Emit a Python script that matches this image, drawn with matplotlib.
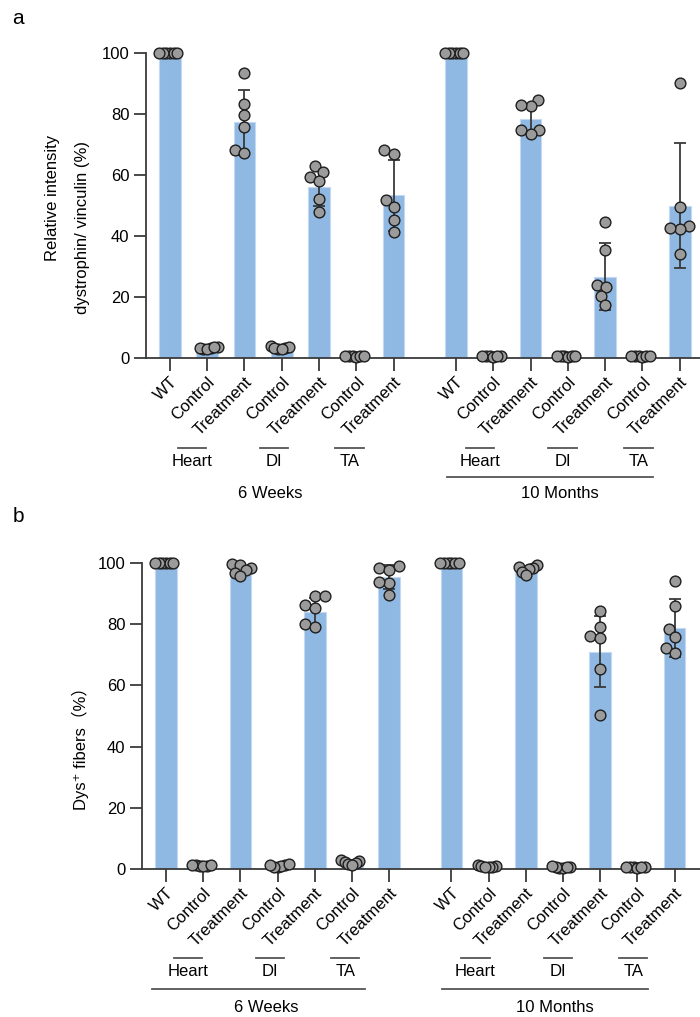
import numpy as np
import matplotlib
matplotlib.use("Agg")
import matplotlib.pyplot as plt
import matplotlib.transforms as mtransforms

plt.rcParams["font.family"] = ["Liberation Sans", "DejaVu Sans", "Noto Sans CJK SC"]
plt.rcParams["font.size"] = 12

# categories
bar_labels = ["WT", "Control", "Treatment", "Control", "Treatment", "Control", "Treatment"] * 2
tissues = ["Heart", "DI", "TA"] * 2
periods = ["6 Weeks", "10 Months"]

# panel a: relative intensity dystrophin / vinculin (%)
a_points = [
    [100, 100, 100, 100, 100, 100],
    [3.0, 3.4, 3.6, 3.2, 2.8, 3.5],
    [93.6, 83.4, 79.8, 75.8, 68.2, 67.1],
    [3.8, 3.2, 2.9, 3.6, 3.4, 2.8],
    [63.0, 61.0, 59.5, 58.0, 52.0, 47.8],
    [0.6, 0.5, 0.4, 0.7, 0.5, 0.6],
    [68.2, 67.0, 51.7, 49.5, 45.3, 41.2],
    [100, 100, 100, 100, 100, 100],
    [0.6, 0.5, 0.7, 0.4, 0.6, 0.5],
    [84.7, 82.6, 82.8, 74.9, 74.7, 73.4],
    [0.5, 0.6, 0.4, 0.7, 0.5, 0.6],
    [44.5, 35.4, 23.8, 23.2, 20.4, 17.4],
    [0.6, 0.5, 0.7, 0.4, 0.5, 0.6],
    [90.2, 49.6, 43.3, 42.2, 42.5, 34.1],
]
a_means = [100, 3.2, 77.3, 3.1, 56.1, 0.5, 53.3, 100, 0.5, 78.3, 0.5, 26.7, 0.5, 50.0]
a_sd = [0, 0.3, 10.6, 0.4, 6.3, 0.1, 11.6, 0, 0.1, 4.8, 0.1, 11.0, 0.1, 20.4]

# panel b: Dys+ fibers (%)
b_points = [
    [100, 100, 100, 100, 100, 100],
    [1.2, 1.0, 1.4, 1.1, 0.9, 1.3],
    [99.8, 99.2, 98.5, 97.6, 96.8, 95.8],
    [1.4, 0.6, 1.0, 1.5, 0.8, 1.2],
    [89.1, 89.3, 86.3, 85.3, 80.2, 79.0],
    [2.8, 2.2, 1.5, 2.5, 1.9, 1.2],
    [98.9, 98.5, 97.8, 93.4, 93.7, 89.4],
    [100, 100, 100, 100, 100, 100],
    [1.0, 0.8, 0.6, 1.2, 0.9, 0.7],
    [99.3, 98.8, 98.4, 97.9, 97.2, 96.2],
    [0.8, 0.4, 0.3, 0.6, 1.0, 0.5],
    [84.4, 79.0, 76.2, 75.6, 65.3, 50.4],
    [0.7, 0.5, 0.6, 0.4, 0.8, 0.5],
    [94.0, 85.8, 78.4, 75.7, 72.3, 70.7],
]
b_means = [100, 1.1, 97.8, 1.1, 84.1, 2.0, 95.4, 100, 0.8, 97.6, 0.6, 71.0, 0.6, 78.7]
b_sd = [0, 0.2, 1.4, 0.3, 4.3, 0.6, 3.8, 0, 0.2, 1.1, 0.3, 11.6, 0.2, 9.5]

BAR = "#8fb8e3"
BAR_EDGE = "#c3d9f1"
DOT = "#9b9b9b"
LINE = "#3a3a3a"

W, H = 700, 1017
fig = plt.figure(figsize=(W / 100, H / 100), dpi=100)

xpos = np.r_[np.arange(7), np.arange(7) + 7.67]


def swarm_offsets(y_px, d):
    xs = np.zeros(len(y_px))
    placed = []
    for i in np.argsort(y_px):
        cands = [0.0]
        for j in placed:
            dy = y_px[i] - y_px[j]
            if abs(dy) < d:
                dx = np.sqrt(d * d - dy * dy)
                cands += [xs[j] + dx, xs[j] - dx]
        cands.sort(key=lambda c: (abs(c), c))
        for c in cands:
            if all((c - xs[j]) ** 2 + (y_px[i] - y_px[j]) ** 2 >= d * d - 1e-6 for j in placed):
                xs[i] = c
                break
        placed.append(i)
    return xs


def panel(ax, points, means, sds, ylabel_bits, period_lines, offs):
    ax.set_ylim(0, 100)
    ax.bar(xpos, means, width=0.58, color=BAR, edgecolor=BAR_EDGE, linewidth=0.8, zorder=1)
    ax.errorbar(xpos, means, yerr=sds, fmt="none", ecolor=LINE, elinewidth=1.3,
                capsize=4.2, capthick=1.3, zorder=2, clip_on=False)
    ax.set_ylim(0, 100)

    # pixel scale to build a beeswarm
    p0 = ax.transData.transform((0, 0))
    p1 = ax.transData.transform((1, 1))
    sx, sy = p1[0] - p0[0], p1[1] - p0[1]
    for x, vals in zip(xpos, points):
        vals = np.asarray(vals, float)
        off = swarm_offsets(vals * sy, 10.0)
        m = np.abs(off).max()
        if m > 11:
            off = off * 11 / m
        ax.scatter(x + off / sx, vals, s=60, facecolor=DOT, edgecolor="#1e1e1e",
                   linewidth=1.0, zorder=3, clip_on=False)

    ax.set_yticks([0, 20, 40, 60, 80, 100])
    ax.set_xticks(xpos)
    ax.set_xticklabels(bar_labels, rotation=45, ha="right", va="top",
                       rotation_mode="anchor")
    for lab in ax.get_xticklabels():
        lab.set_transform(lab.get_transform() +
                          mtransforms.ScaledTranslation(5 / 100, 0, fig.dpi_scale_trans))
    ax.tick_params(length=9, width=1.3, color=LINE, labelsize=12, pad=3)
    for s in ["top", "right"]:
        ax.spines[s].set_visible(False)
    for s in ["left", "bottom"]:
        ax.spines[s].set_linewidth(1.3)
        ax.spines[s].set_color(LINE)

    def tr(px):
        return mtransforms.offset_copy(ax.get_xaxis_transform(), fig=fig, x=0, y=-px, units="dots")

    tissue_x = [0.6, 2.8, 4.82, 8.32, 10.53, 12.56]
    for cx, name in zip(tissue_x, tissues):
        ax.plot([cx - 0.38, cx + 0.38], [0, 0], color="#555555", lw=1.3,
                transform=tr(offs[0]), clip_on=False)
        ax.text(cx, 0, name, ha="center", va="center", fontsize=12, transform=tr(offs[1]))

    period_span = [(-0.38, 5.34), (7.43, 12.95)]
    period_x = [2.7, 10.45]
    for k, name in enumerate(periods):
        if k in period_lines:
            a, b = period_span[k]
            ax.plot([a, b], [0, 0], color="#555555", lw=1.3, transform=tr(offs[2]), clip_on=False)
        ax.text(period_x[k], 0, name, ha="center", va="center", fontsize=12, transform=tr(offs[3]))

    for (x, y, t) in ylabel_bits:
        fig.text(x / W, 1 - y / H, t, rotation=90, ha="center", va="center", fontsize=12)


ax_a = fig.add_axes([146 / W, (H - 358) / H, (W - 146) / W, 305 / H])
ax_a.set_xlim(-0.64, -0.64 + (W - 146) / 37.3)
panel(ax_a, a_points, a_means, a_sd,
      [(53, 198, "Relative intensity"), (83, 227, "dystrophin/ vinculin (%)")],
      [1], (90, 104, 119, 136))

ax_b = fig.add_axes([142 / W, (H - 869) / H, (W - 142) / W, 306 / H])
ax_b.set_xlim(-0.645, -0.645 + (W - 142) / 37.2)
panel(ax_b, b_points, b_means, b_sd,
      [(80, 745, "Dys\u207a fibers\uff08%\uff09")],
      [0, 1], (89, 102, 120, 138))

fig.text(18 / W, 1 - 18 / H, "a", fontsize=15, ha="center", va="center")
fig.text(18 / W, 1 - 516 / H, "b", fontsize=15, ha="center", va="center")

fig.savefig("out.png", dpi=100)
